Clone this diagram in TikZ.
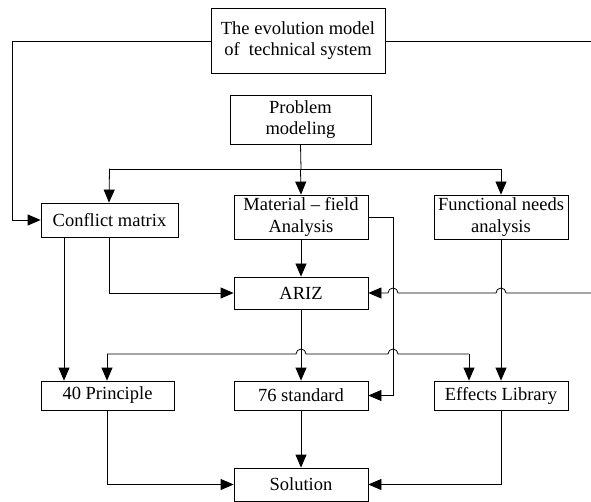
\documentclass[tikz,border=0pt]{standalone}
\usepackage{fontspec}
\setmainfont{Liberation Serif}
\usetikzlibrary{arrows.meta}
\begin{document}
\begin{tikzpicture}[x=1pt,y=1pt,
  box/.style={draw, line width=0.8pt, inner sep=0pt, align=center,
    font=\fontsize{18.5}{21.5}\selectfont},
  conn/.style={line width=0.8pt},
  arr/.style={conn, -{Triangle[length=13pt,width=11pt]}}]
\useasboundingbox (0,0) rectangle (591,-502);
% nodes
\node[box, minimum width=174, minimum height=65] (evo) at (298,-40.5) {The evolution model\\of\ \ technical system};
\node[box, minimum width=141, minimum height=49] (prob) at (300.5,-119.5) {Problem\\modeling};
\node[box, minimum width=137, minimum height=34] (conf) at (109.5,-220) {Conflict matrix};
\node[box, minimum width=134, minimum height=44] (mat) at (301,-217) {Material -- field\\Analysis};
\node[box, minimum width=134, minimum height=44] (func) at (501,-217) {Functional needs\\analysis};
\node[box, minimum width=134, minimum height=32] (ariz) at (301,-293) {ARIZ};
\node[box, minimum width=133, minimum height=29] (p40) at (107.5,-395.5) {40 Principle};
\node[box, minimum width=134, minimum height=29] (s76) at (301,-395.5) {76 standard};
\node[box, minimum width=134, minimum height=29] (eff) at (501,-395.5) {Effects Library};
\node[box, minimum width=134, minimum height=33] (sol) at (301,-484.5) {Solution};
% free ends
\coordinate (rtop) at (591,-41);
\coordinate (rariz) at (591,-293);
\coordinate (bleft) at (107,-354);
\coordinate (bright) at (469,-354);
% evolution model links
\draw[arr] (evo.west |- rtop) -- (12.5,-41) |- (conf.west);
\draw[conn] (evo.east |- rtop) -- (rtop);
% problem modeling branches
\draw[conn] (prob.south) -- (301,-169);
\draw[arr] (109,-169) -- (109,-169 -| conf.north) -- (109,0 |- conf.north);
\draw[conn] (109,-169) -- (func.north |- 0,-169);
\draw[arr] (prob.south |- 0,-169) -- (mat.north);
\draw[arr] (func.north |- 0,-169) -- (func.north);
% conflict matrix
\draw[arr] (64,0 |- conf.south) -- (64,0 |- p40.north);
\draw[arr] (109,0 |- conf.south) |- (ariz.west);
% material-field
\draw[arr] (mat.south) -- (ariz.north);
\draw[arr] (mat.east |- 0,-217) -- (393,-217) |- (s76.east);
% right incoming line to ARIZ with hops
\draw[arr] (rariz) -- (506,-293) arc (0:180:5) -- (398,-293) arc (0:180:5) -- (ariz.east);
% functional needs to effects library
\draw[arr] (func.south) -- (eff.north);
% ARIZ to 76 standard
\draw[arr] (ariz.south) -- (s76.north);
% horizontal distribution line with hops
\draw[conn] (bleft) -- (296,-354) arc (180:0:5) -- (388,-354) arc (180:0:5) -- (bright);
\draw[arr] (bleft) -- (bleft |- p40.north);
\draw[arr] (bright) -- (bright |- eff.north);
% to solution
\draw[arr] (s76.south) -- (sol.north);
\draw[arr] (107,0 |- p40.south) |- (sol.west);
\draw[arr] (eff.south) |- (sol.east);
\end{tikzpicture}
\end{document}
